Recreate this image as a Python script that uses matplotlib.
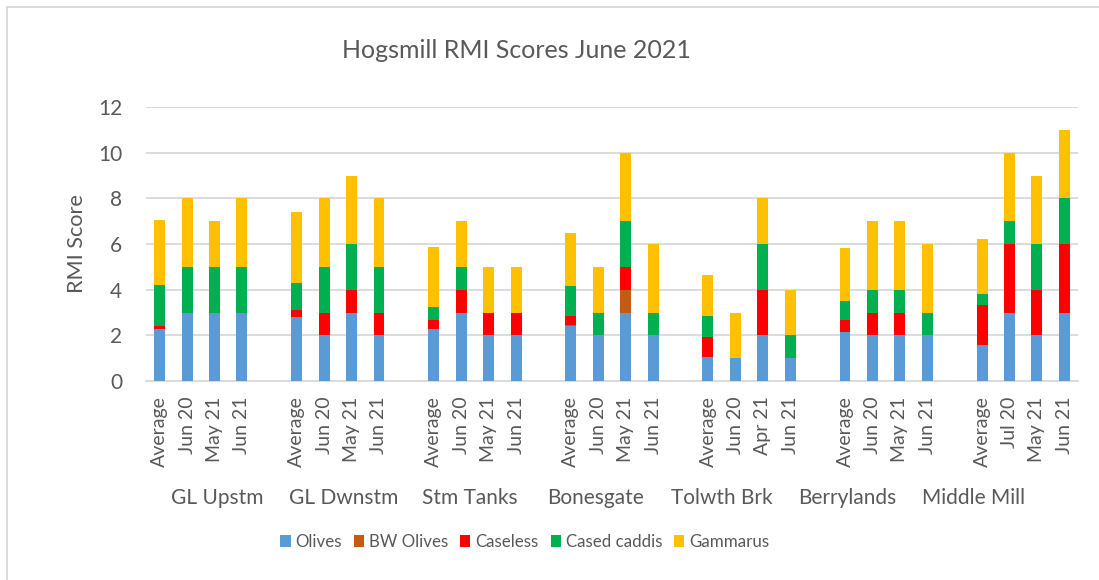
import matplotlib
matplotlib.use("Agg")
import matplotlib.pyplot as plt
from matplotlib.patches import Rectangle

# site groups and the sample labels under each
groups = ["GL Upstm", "GL Dwnstm", "Stm Tanks", "Bonesgate", "Tolwth Brk", "Berrylands", "Middle Mill"]
samples = [
    ["Average", "Jun 20", "May 21", "Jun 21"],
    ["Average", "Jun 20", "May 21", "Jun 21"],
    ["Average", "Jun 20", "May 21", "Jun 21"],
    ["Average", "Jun 20", "May 21", "Jun 21"],
    ["Average", "Jun 20", "Apr 21", "Jun 21"],
    ["Average", "Jun 20", "May 21", "Jun 21"],
    ["Average", "Jul 20", "May 21", "Jun 21"],
]

# stacked series, 4 bars per site
olives   = [2.26, 3, 3, 3,  2.80, 2, 3, 2,  2.26, 3, 2, 2,  2.42, 2, 3, 2,  1.03, 1, 2, 1,  2.16, 2, 2, 2,  1.59, 3, 2, 3]
bw_olives = [0, 0, 0, 0,    0, 0, 0, 0,     0, 0, 0, 0,     0.04, 0, 1, 0,  0, 0, 0, 0,     0, 0, 0, 0,     0, 0, 0, 0]
caseless = [0.14, 0, 0, 0,  0.32, 1, 1, 1,  0.41, 1, 1, 1,  0.40, 0, 1, 0,  0.89, 0, 2, 0,  0.53, 1, 1, 0,  1.73, 3, 2, 3]
cased    = [1.80, 2, 2, 2,  1.17, 2, 2, 2,  0.57, 1, 0, 0,  1.29, 1, 2, 1,  0.92, 0, 2, 1,  0.83, 1, 1, 1,  0.51, 1, 2, 2]
gammarus = [2.87, 3, 2, 3,  3.10, 3, 3, 3,  2.62, 2, 2, 2,  2.31, 2, 3, 3,  1.81, 2, 2, 2,  2.32, 3, 3, 3,  2.40, 3, 3, 3]

series = [("Olives", olives, "#5B9BD5"), ("BW Olives", bw_olives, "#C55A11"),
          ("Caseless", caseless, "#FF0000"), ("Cased caddis", cased, "#00B050"),
          ("Gammarus", gammarus, "#FFC000")]

TXT = "#595959"
plt.rcParams["font.family"] = ["Lato", "DejaVu Sans"]

W, H = 1099, 580
fig = plt.figure(figsize=(W / 100, H / 100), dpi=100)
L, R, T, B = 146, 1078, 107, 381  # plot area in pixels
ax = fig.add_axes([L / W, 1 - B / H, (R - L) / W, (B - T) / H])

# 4 bars per site, one empty slot between sites
xs = [g * 5 + j + 0.5 for g in range(len(groups)) for j in range(4)]
labels = [s for grp in samples for s in grp]
bottom = [0.0] * len(xs)
for name, vals, col in series:
    ax.bar(xs, vals, width=0.4, bottom=bottom, color=col, label=name, zorder=3)
    bottom = [b + v for b, v in zip(bottom, vals)]

ax.set_xlim(0, 34)
ax.set_ylim(0, 12)
ax.set_yticks(range(0, 13, 2))
ax.set_xticks(xs)
ax.set_xticklabels(labels, rotation=90, va="top", ha="center")
ax.tick_params(axis="x", length=0, pad=11, labelsize=14, colors=TXT)
ax.tick_params(axis="y", length=0, pad=17, labelsize=15, colors=TXT)
ax.grid(axis="y", color="#D9D9D9", linewidth=1.3, zorder=0)
for s in ("left", "right", "top"):
    ax.spines[s].set_visible(False)
ax.spines["bottom"].set_color("#D9D9D9")
ax.spines["bottom"].set_linewidth(1.3)

# site names under the sample labels
for g, name in enumerate(groups):
    ax.text(2.6 + 4.6 * g, -(504 - B) / (B - T), name, transform=ax.get_xaxis_transform(),
            ha="center", va="baseline", fontsize=15, color=TXT)

fig.text(77 / W, 1 - 244 / H, "RMI Score", rotation=90, ha="center", va="center",
         fontsize=15.6, color=TXT)
fig.text(516 / W, 1 - 58 / H, "Hogsmill RMI Scores June 2021", ha="center", va="baseline",
         fontsize=18, color=TXT)

fig.legend(loc="center", bbox_to_anchor=(525 / W, 1 - 542 / H), ncol=5, frameon=False,
           fontsize=12.2, labelcolor=TXT, handlelength=0.6, handleheight=0.7,
           handletextpad=0.3, columnspacing=0.7)

# light chart-area border (cropped on the right and bottom like the original)
fig.add_artist(Rectangle((7 / W, -0.02), 1.02, 1 - 7 / H + 0.02, transform=fig.transFigure,
                         fill=False, edgecolor="#D9D9D9", linewidth=1.3))

fig.savefig("out.png", dpi=100)
